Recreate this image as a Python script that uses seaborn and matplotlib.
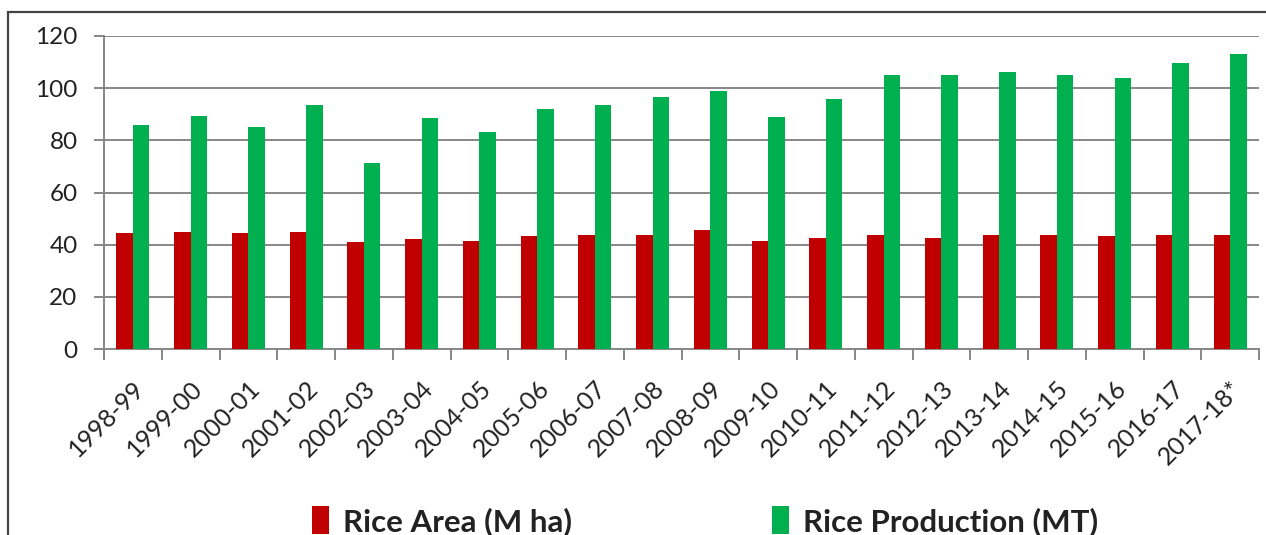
import pandas as pd
import matplotlib
matplotlib.use("Agg")
import matplotlib.pyplot as plt
from matplotlib.patches import Rectangle
import seaborn as sns

# valeurs
seasons = ["1998-99", "1999-00", "2000-01", "2001-02", "2002-03", "2003-04",
           "2004-05", "2005-06", "2006-07", "2007-08", "2008-09", "2009-10",
           "2010-11", "2011-12", "2012-13", "2013-14", "2014-15", "2015-16",
           "2016-17", "2017-18*"]
rice_area = [44.4, 45.0, 44.4, 45.0, 40.9, 42.1, 41.5, 43.2, 43.8, 43.8,
             45.5, 41.5, 42.7, 43.8, 42.7, 43.8, 43.8, 43.2, 43.8, 43.8]
rice_production = [86.0, 89.5, 85.0, 93.4, 71.4, 88.4, 83.3, 91.9, 93.4, 96.7,
                   99.0, 89.0, 95.7, 105.2, 105.2, 106.3, 105.2, 104.0, 109.8, 113.2]
series_names = ["Rice Area (M ha)", "Rice Production (MT)"]
colors = ["#C00000", "#00B050"]

df = pd.DataFrame({
    "season": seasons * 2,
    "value": rice_area + rice_production,
    "series": [series_names[0]] * len(seasons) + [series_names[1]] * len(seasons),
})

sns.set_style("white")
plt.rcParams["font.family"] = ["Lato", "DejaVu Sans"]

fig = plt.figure(figsize=(12.66, 5.35), dpi=100)
ax = fig.add_axes([104 / 1266, 1 - 349 / 535, (1259 - 104) / 1266, (349 - 36) / 535])

sns.barplot(data=df, x="season", y="value", hue="series", palette=colors,
            width=0.57, saturation=1, linewidth=0, ax=ax, zorder=3)

grid_color = "#878787"
ax.set_ylim(0, 120)
ax.set_yticks(range(0, 121, 20))
ax.set_xlim(-0.5, len(seasons) - 0.5)
ax.yaxis.grid(True, color=grid_color, lw=1.4, zorder=0)
ax.set_axisbelow(True)
for side in ["top", "right"]:
    ax.spines[side].set_visible(False)
for side in ["left", "bottom"]:
    ax.spines[side].set_color(grid_color)
    ax.spines[side].set_linewidth(1.4)

ax.set_xlabel("")
ax.set_ylabel("")
ax.tick_params(axis="y", length=7, width=1.4, color=grid_color, left=True,
               labelsize=17.5, pad=12, labelcolor="#222222")
ax.set_xticks(range(len(seasons)))
ax.set_xticklabels(seasons, rotation=45, ha="right", rotation_mode="anchor",
                   fontsize=18, color="#222222")
ax.tick_params(axis="x", which="major", length=0, pad=20)
ax.set_xticks([i - 0.5 for i in range(len(seasons) + 1)], minor=True)
ax.tick_params(axis="x", which="minor", length=8, width=1.4, color=grid_color, bottom=True)

sns.move_legend(ax, loc="center", bbox_to_anchor=(0.557, 1 - 521 / 535),
                bbox_transform=fig.transFigure, ncol=2, frameon=False, title=None,
                handlelength=0.55, handleheight=1.0, columnspacing=6.4,
                handletextpad=0.45, prop={"size": 22.5, "weight": "bold"})
for t in ax.get_legend().get_texts():
    t.set_color("#222222")

# cadre exterieur
fig.add_artist(Rectangle((8 / 1266, -0.2), 1.2, 1.2 - 12 / 535,
                         transform=fig.transFigure, fill=False,
                         edgecolor="#444444", lw=1.6))

fig.savefig("out.png", dpi=100)
